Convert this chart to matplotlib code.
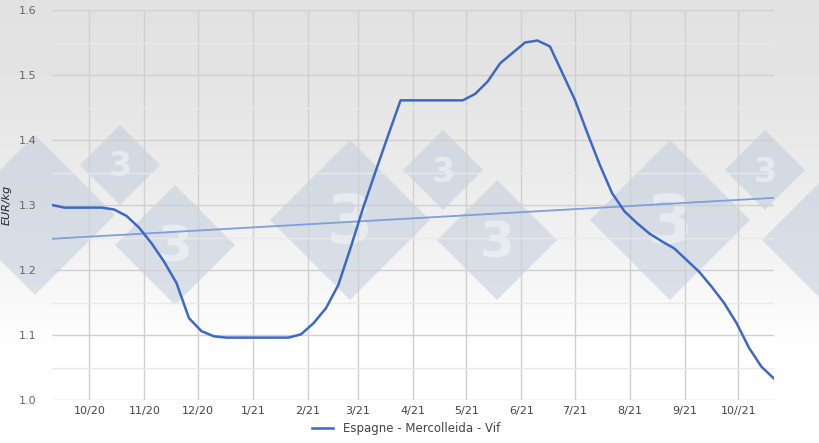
import numpy as np
import pandas as pd
import matplotlib.pyplot as plt
from matplotlib.patches import Polygon

# weekly prices (Thursdays), Espagne - Mercolleida - Vif, EUR/kg
dates = pd.date_range("2020-09-10", periods=59, freq="7D")
prices = [1.300, 1.296, 1.296, 1.296, 1.296, 1.293, 1.283, 1.265, 1.241, 1.213,
          1.180, 1.126, 1.106, 1.098, 1.096, 1.096, 1.096, 1.096, 1.096, 1.096,
          1.101, 1.118, 1.141, 1.177, 1.235, 1.296, 1.352, 1.407, 1.461, 1.461,
          1.461, 1.461, 1.461, 1.461, 1.471, 1.490, 1.518, 1.534, 1.550, 1.553,
          1.544, 1.503, 1.462, 1.411, 1.362, 1.318, 1.290, 1.272, 1.256, 1.244,
          1.233, 1.215, 1.197, 1.174, 1.149, 1.118, 1.080, 1.051, 1.033]
trend_ends = [1.248, 1.311]

tick_dates = pd.date_range("2020-10-01", periods=13, freq="MS")
tick_labels = ["10/20", "11/20", "12/20", "1/21", "2/21", "3/21", "4/21",
               "5/21", "6/21", "7/21", "8/21", "9/21", "10//21"]

fig = plt.figure(figsize=(8.2, 4.43), dpi=100)

# background gradient + watermark
bg = fig.add_axes([0, 0, 1, 1], zorder=-1)
t = np.linspace(0, 1, 443)
shade = 0.885 + 0.115 * np.clip(t / 0.8, 0, 1) ** 1.6
grad = np.repeat(shade[:, None], 10, axis=1)
bg.imshow(grad, cmap="gray", vmin=0, vmax=1, extent=[0, 820, 443, 0], aspect="auto")
bg.set_xlim(0, 820)
bg.set_ylim(443, 0)
bg.axis("off")

marks = [(35, 215, 80), (120, 165, 40), (175, 245, 60),
         (350, 220, 80), (443, 170, 40), (497, 240, 60),
         (670, 220, 80), (765, 170, 40), (822, 240, 60)]
for cx, cy, r in marks:
    bg.add_patch(Polygon([(cx - r, cy), (cx, cy - r), (cx + r, cy), (cx, cy + r)],
                         closed=True, facecolor="#bccadb", edgecolor="none", alpha=0.5))
    if 40 < cx < 780:
        bg.text(cx, cy + r * 0.05, "3", ha="center", va="center", color="white",
                alpha=0.45, fontsize=r * 0.6, fontweight="bold")

ax = fig.add_axes([52 / 820, 1 - 400 / 443, 722 / 820, 390 / 443])
ax.set_facecolor("none")

ax.plot([dates[0], dates[-1]], trend_ends, color="#7f9edb", linewidth=1.3)
ax.plot(dates, prices, color="#3d68c4", linewidth=1.8, label="Espagne - Mercolleida - Vif")

ax.set_xlim(dates[0], dates[-1])
ax.set_ylim(1.0, 1.6)
ax.set_yticks(np.arange(1.0, 1.61, 0.1))
ax.set_yticklabels([f"{v:.1f}" for v in np.arange(1.0, 1.61, 0.1)])
ax.set_yticks(np.arange(1.05, 1.6, 0.1), minor=True)
ax.set_xticks(tick_dates)
ax.set_xticklabels(tick_labels)
ax.tick_params(axis="both", length=0, labelsize=8, colors="#444444")
ax.tick_params(axis="y", pad=11, colors="#666666")
ax.tick_params(axis="x", pad=4)
ax.tick_params(which="minor", length=0)

ax.grid(True, which="major", color="#d0d0d0", linewidth=1)
ax.grid(True, which="minor", axis="y", color="#e9e9e9", linewidth=1)
ax.set_axisbelow(True)
for s in ax.spines.values():
    s.set_visible(False)

ax.set_ylabel("EUR/kg", fontsize=8, style="italic", color="#222222")
ax.yaxis.set_label_coords(-40 / 722, 0.5)

ax.legend(loc="upper center", bbox_to_anchor=(0.49, -0.03), frameon=False,
          fontsize=8.5, handlelength=1.8, labelcolor="#444444")

fig.savefig("out.png", dpi=100)
